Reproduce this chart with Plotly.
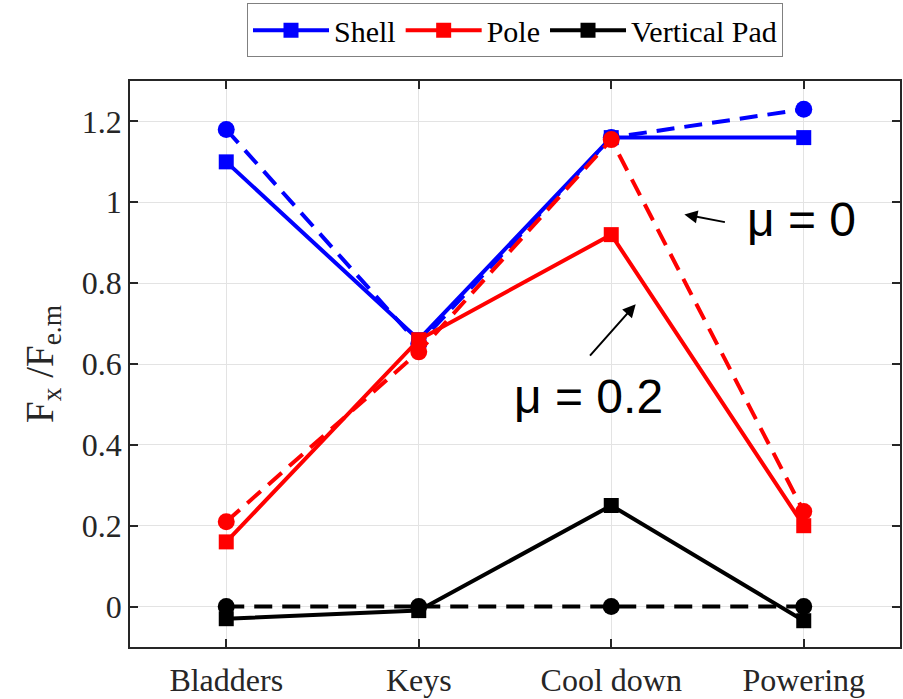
import plotly.graph_objects as go

stages = ["Bladders", "Keys", "Cool down", "Powering"]

# mu = 0.2 (solid, squares)
shell_mu02 = [1.10, 0.66, 1.16, 1.16]
pole_mu02 = [0.16, 0.66, 0.92, 0.20]
pad_mu02 = [-0.03, -0.01, 0.25, -0.035]

# mu = 0 (dashed, circles)
shell_mu0 = [1.18, 0.65, 1.16, 1.23]
pole_mu0 = [0.21, 0.63, 1.155, 0.235]
pad_mu0 = [0.0, 0.0, 0.0, 0.0]

series_names = ["Shell", "Pole", "Vertical Pad"]
colors = ["#0000FF", "#FF0000", "#000000"]

y_ticks = [0, 0.2, 0.4, 0.6, 0.8, 1.0, 1.2]
y_ticktext = ["0", "0.2", "0.4", "0.6", "0.8", "1", "1.2"]

SERIF = "Liberation Serif, Times New Roman, serif"
SANS = "Liberation Sans, Arial, Helvetica, sans-serif"
AX = "#262626"

fig = go.Figure()

solid = [shell_mu02, pole_mu02, pad_mu02]
dashed = [shell_mu0, pole_mu0, pad_mu0]

for name, col, ys, yd in zip(series_names, colors, solid, dashed):
    fig.add_trace(go.Scatter(
        x=stages, y=ys, name=name, mode="lines+markers",
        line=dict(color=col, width=4),
        marker=dict(symbol="square", size=15, color=col),
        showlegend=True,
    ))
    fig.add_trace(go.Scatter(
        x=stages, y=yd, name=name + " (mu=0)", mode="lines+markers",
        line=dict(color=col, width=4, dash="18px,10px"),
        marker=dict(symbol="circle", size=17, color=col),
        showlegend=False,
    ))

fig.update_layout(
    width=903, height=699,
    margin=dict(l=130, r=1, t=81, b=50),
    paper_bgcolor="white", plot_bgcolor="white",
    font=dict(family=SERIF, size=31, color=AX),
    showlegend=True,
    legend=dict(
        orientation="h", x=0.5, xanchor="center", y=1.042, yanchor="bottom",
        bordercolor="#808080", borderwidth=1, bgcolor="white",
        font=dict(family=SERIF, size=30, color="black"),
        itemwidth=76, tracegroupgap=0,
    ),
    xaxis=dict(
        type="category", range=[-0.5, 3.5],
        showline=True, linecolor=AX, linewidth=1.5, mirror="ticks",
        ticks="inside", ticklen=8, tickwidth=1.5, tickcolor=AX,
        showgrid=True, gridcolor="#e3e3e3", gridwidth=1,
        tickfont=dict(family=SERIF, size=32, color=AX),
        ticklabelstandoff=4,
    ),
    yaxis=dict(
        range=[-0.1, 1.3], tickvals=y_ticks, ticktext=y_ticktext,
        showline=True, linecolor=AX, linewidth=1.5, mirror="ticks",
        ticks="inside", ticklen=8, tickwidth=1.5, tickcolor=AX,
        showgrid=True, gridcolor="#e3e3e3", gridwidth=1, zeroline=False,
        tickfont=dict(family=SERIF, size=32, color=AX),
        title=dict(text="F<sub>x</sub> /F<sub>e.m</sub>",
                   font=dict(family=SERIF, size=39, color=AX), standoff=16),
    ),
)

# annotations
fig.add_annotation(x=2.987, y=0.958, xref="x", yref="y", text="μ = 0",
                   showarrow=False, font=dict(family=SANS, size=48, color="black"),
                   xanchor="center", yanchor="middle")
fig.add_annotation(x=1.883, y=0.52, xref="x", yref="y", text="μ = 0.2",
                   showarrow=False, font=dict(family=SANS, size=48, color="black"),
                   xanchor="center", yanchor="middle")
fig.add_annotation(x=2.38, y=0.970, xref="x", yref="y", text="",
                   showarrow=True, ax=42, ay=8, arrowhead=2, arrowsize=1.3,
                   arrowwidth=2, arrowcolor="black")
fig.add_annotation(x=2.127, y=0.748, xref="x", yref="y", text="",
                   showarrow=True, ax=-47, ay=53, arrowhead=2, arrowsize=1.3,
                   arrowwidth=2, arrowcolor="black")

fig.write_html("out.html")
